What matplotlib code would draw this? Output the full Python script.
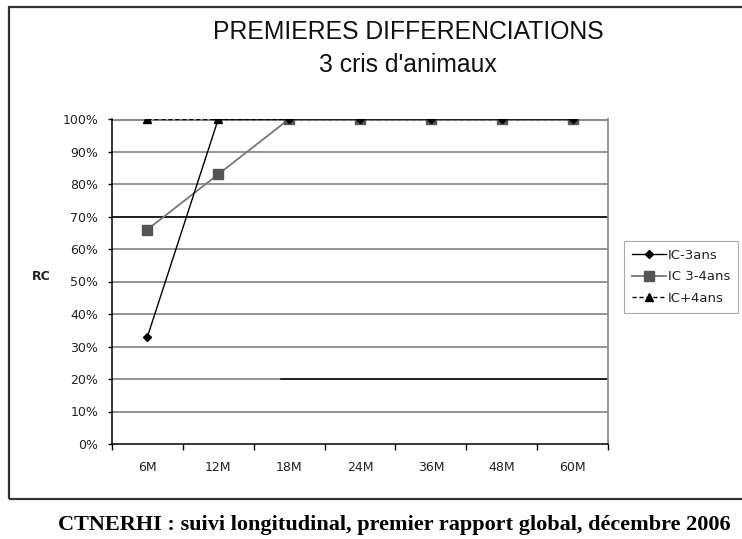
import matplotlib
matplotlib.use("Agg")
import matplotlib.pyplot as plt
from matplotlib.patches import Rectangle
import numpy as np

categories = ["6M", "12M", "18M", "24M", "36M", "48M", "60M"]
ic_moins3 = [33, 100, 100, 100, 100, 100, 100]
ic_3_4 = [66, 83, 100, 100, 100, 100, 100]
ic_plus4 = [100, 100, 100, 100, 100, 100, 100]
series_labels = ["IC-3ans", "IC 3-4ans", "IC+4ans"]
yticks = [0, 10, 20, 30, 40, 50, 60, 70, 80, 90, 100]
ytick_labels = [f"{v}%" for v in yticks]

W, H = 742, 539
fig = plt.figure(figsize=(W / 100, H / 100), dpi=100)
fig.patch.set_facecolor("white")

# outer frame
fig.patches.append(Rectangle((9 / W, (H - 499) / H), 1.0, (499 - 7) / H,
                             transform=fig.transFigure, fill=False,
                             edgecolor="#333333", linewidth=1.6))

ax = fig.add_axes([112 / W, (H - 444) / H, (608 - 112) / W, (444 - 119) / H])
x = np.arange(len(categories))
ax.set_xlim(-0.5, len(categories) - 0.5)
ax.set_ylim(0, 100)

# gridlines
for v in yticks[1:]:
    ax.axhline(v, color="#8c8c8c", linewidth=1.3, zorder=1)
ax.axhline(100, color="#8c8c8c", linewidth=2.2, zorder=1)
ax.axhline(70, color="black", linewidth=1.1, zorder=1.5)
ax.axhline(20, xmin=0.34, color="black", linewidth=1.1, zorder=1.5)

ax.plot(x, ic_plus4, color="black", linestyle=(0, (3, 2)), linewidth=1.0,
        marker="^", markersize=5.5, markerfacecolor="black",
        markeredgecolor="black", label=series_labels[2], zorder=3)
ax.plot(x, ic_3_4, color="#777777", linewidth=1.3,
        marker="s", markersize=6.5, markerfacecolor="#555555",
        markeredgecolor="#555555", label=series_labels[1], zorder=4)
ax.plot(x, ic_moins3, color="black", linewidth=1.0,
        marker="D", markersize=4, markerfacecolor="black",
        markeredgecolor="black", label=series_labels[0], zorder=5)

ax.spines["top"].set_visible(False)
ax.spines["right"].set_color("#8c8c8c")
ax.spines["right"].set_linewidth(1.3)
ax.spines["left"].set_color("black")
ax.spines["bottom"].set_color("black")
ax.spines["left"].set_linewidth(1.1)
ax.spines["bottom"].set_linewidth(1.1)

ax.set_yticks(yticks)
ax.set_yticklabels(ytick_labels)
ax.tick_params(axis="y", direction="out", length=3, width=1, pad=7,
               labelsize=9, colors="black")
ax.set_xticks(x)
ax.set_xticklabels(categories)
ax.set_xticks(np.arange(len(categories) + 1) - 0.5, minor=True)
ax.tick_params(axis="x", which="major", length=0, pad=12, labelsize=9)
ax.tick_params(axis="x", which="minor", direction="out", length=4, width=1)
for lbl in ax.get_xticklabels() + ax.get_yticklabels():
    lbl.set_fontfamily("DejaVu Sans")
    lbl.set_color("#222222")

fig.text(41 / W, 1 - 277 / H, "RC", fontsize=9, fontweight="bold",
         family="DejaVu Sans", ha="center", va="center", color="#222222")

fig.text(408 / W, 1 - 32 / H, "PREMIERES DIFFERENCIATIONS", fontsize=17.8,
         family="Liberation Sans", ha="center", va="center",
         color="#111111")
fig.text(408 / W, 1 - 65 / H, "3 cris d'animaux", fontsize=17.8,
         family="Liberation Sans", ha="center", va="center",
         color="#111111")

handles, labels = ax.get_legend_handles_labels()
order = [2, 1, 0]
leg = fig.legend([handles[i] for i in order], [labels[i] for i in order],
                 loc="upper left", bbox_to_anchor=(624 / W, 1 - 241 / H),
                 frameon=True, fancybox=False, edgecolor="#aaaaaa",
                 prop={"family": "DejaVu Sans", "size": 9.5},
                 handlelength=2.6, handletextpad=0.1, labelspacing=0.65,
                 borderpad=0.6, borderaxespad=0, framealpha=1)
leg.get_frame().set_linewidth(0.8)
for t in leg.get_texts():
    t.set_color("#222222")

fig.text(58 / W, 1 - 525 / H,
         "CTNERHI : suivi longitudinal, premier rapport global, décembre 2006",
         fontsize=16, fontweight="bold", family="Liberation Serif",
         ha="left", va="center", color="black")

fig.savefig("out.png", dpi=100)
